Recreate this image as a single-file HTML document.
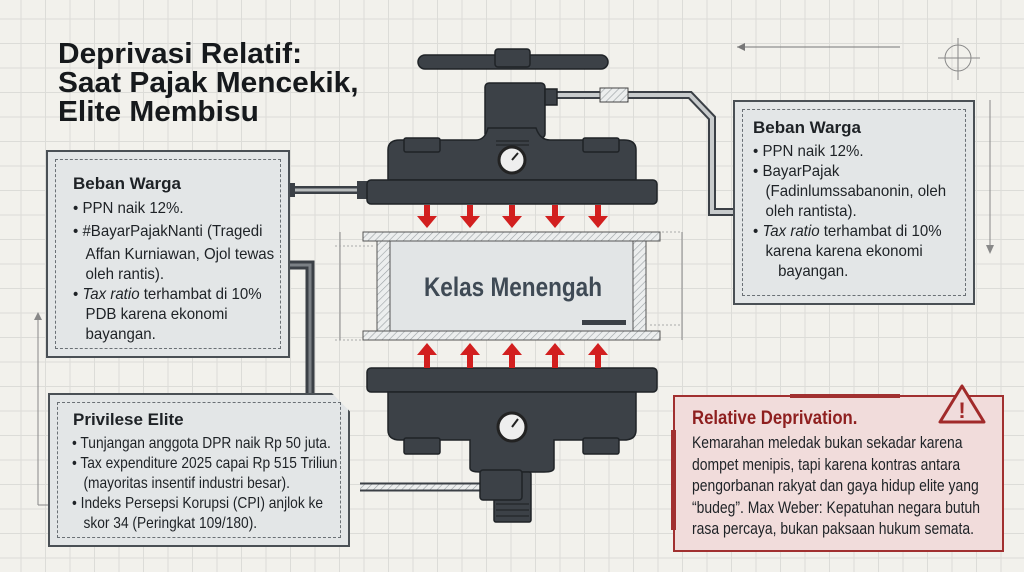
<!DOCTYPE html>
<html><head><meta charset="utf-8"><style>
*{margin:0;padding:0;box-sizing:border-box}
body{width:1024px;height:572px;overflow:hidden;position:relative;background-color:#f2f1ec;
background-image:linear-gradient(#dcdcd8 1px,transparent 1px),linear-gradient(90deg,#dcdcd8 1px,transparent 1px);background-size:24.5px 24.5px;background-position:-4px -6px;
font-family:"Liberation Sans",sans-serif;color:#1e2226}
.t{position:absolute;white-space:nowrap;transform-origin:0 0}
.title{left:58px;top:40px;font-weight:bold;font-size:29px;line-height:29px;color:#16191c;transform:scaleX(1.03)}
.box{position:absolute;background:#e3e6e7;border:2px solid #4a5055}
.in{position:absolute;border:1.5px dashed #6a7075}
.h{font-weight:bold;font-size:17px}
.l{font-size:16px;line-height:20px}
</style></head><body>
<div class="t title">Deprivasi Relatif:<br>Saat Pajak Mencekik,<br>Elite Membisu</div>

<svg width="1024" height="572" style="position:absolute;left:0;top:0">
<defs>
<pattern id="hat" width="5" height="5" patternUnits="userSpaceOnUse" patternTransform="rotate(45)"><rect width="5" height="5" fill="#eceeee"/><line x1="0" y1="0" x2="0" y2="5" stroke="#9aa0a3" stroke-width="1.2"/></pattern>
</defs>
<line x1="737" y1="47" x2="900" y2="47" stroke="#777" stroke-width="1"/><polygon points="737,47 745,43 745,51" fill="#777"/>
<circle cx="958" cy="58" r="13" fill="none" stroke="#888"/><line x1="938" y1="58" x2="980" y2="58" stroke="#888"/><line x1="958" y1="38" x2="958" y2="80" stroke="#888"/>
<line x1="990" y1="100" x2="990" y2="250" stroke="#888"/><polygon points="986,245 994,245 990,254" fill="#888"/>
<line x1="38" y1="315" x2="38" y2="505" stroke="#888"/><polygon points="34,320 42,320 38,312" fill="#888"/>
<line x1="38" y1="505" x2="48" y2="505" stroke="#888"/>
<line x1="340" y1="232" x2="340" y2="340" stroke="#888"/><line x1="335" y1="246" x2="375" y2="246" stroke="#aaa" stroke-dasharray="2 2"/><line x1="335" y1="340" x2="375" y2="340" stroke="#aaa" stroke-dasharray="2 2"/>
<line x1="682" y1="232" x2="682" y2="340" stroke="#888"/><line x1="650" y1="232" x2="682" y2="232" stroke="#aaa" stroke-dasharray="2 2"/><line x1="650" y1="325" x2="682" y2="325" stroke="#aaa" stroke-dasharray="2 2"/>
<g stroke-linecap="butt" fill="none">
<path d="M545 95 H690 L712 118 V212 H735" stroke="#3b4046" stroke-width="8"/>
<path d="M545 95 H690 L712 118 V212 H735" stroke="#c8cbcc" stroke-width="4"/>
<path d="M290 190 H367" stroke="#3b4046" stroke-width="8"/><path d="M290 190 H367" stroke="#b8bcbd" stroke-width="3"/>
<path d="M290 265 H310 V393" stroke="#3b4046" stroke-width="9"/><path d="M290 265 H310 V393" stroke="#7b8085" stroke-width="3"/>
<path d="M360 487 H480" stroke="#3b4046" stroke-width="9"/><path d="M360 487 H480" stroke="url(#hat)" stroke-width="5"/>
</g>
<rect x="600" y="88" width="28" height="14" fill="url(#hat)" stroke="#444"/>
<rect x="287" y="183" width="8" height="14" fill="#3b4046"/><rect x="357" y="181" width="12" height="18" fill="#3b4046"/>
<g fill="#3c4147" stroke="#1f2327" stroke-width="1.5">
<rect x="418" y="55" width="190" height="14" rx="7"/>
<rect x="495" y="49" width="35" height="18" rx="3"/>
<rect x="485" y="83" width="60" height="55" rx="4"/>
<rect x="545" y="89" width="12" height="16"/>
<rect x="494" y="138" width="37" height="10"/>
<path d="M388 180 V150 Q388 140 400 140 H476 Q485 140 488 128 H536 Q540 140 550 140 H624 Q636 140 636 150 V180 Z"/>
<rect x="404" y="138" width="36" height="14" rx="2"/><rect x="583" y="138" width="36" height="14" rx="2"/>
<rect x="367" y="180" width="290" height="24" rx="4"/>
<rect x="367" y="368" width="290" height="24" rx="4"/>
<path d="M388 392 V430 Q388 440 400 440 H470 V468 Q470 472 480 472 H544 Q554 472 554 468 V440 H624 Q636 440 636 430 V392 Z"/>
<rect x="404" y="438" width="36" height="16" rx="2"/><rect x="583" y="438" width="36" height="16" rx="2"/>
<rect x="494" y="472" width="37" height="50" rx="2"/>
<rect x="480" y="470" width="42" height="30" rx="3"/>
</g>
<g stroke="#22262a" stroke-width="1.2">
<line x1="496" y1="504" x2="529" y2="504"/><line x1="496" y1="510" x2="529" y2="510"/><line x1="496" y1="516" x2="529" y2="516"/>
<line x1="496" y1="141" x2="529" y2="141"/><line x1="496" y1="145" x2="529" y2="145"/></g>
<circle cx="512" cy="160" r="13" fill="#eee" stroke="#222" stroke-width="3"/><line x1="512" y1="160" x2="518" y2="153" stroke="#222" stroke-width="2"/>
<circle cx="512" cy="427" r="14" fill="#eee" stroke="#222" stroke-width="3"/><line x1="512" y1="427" x2="518" y2="419" stroke="#222" stroke-width="2"/>
<g fill="#d21f1f">
<path d="M424 205h6v11h7l-10 12-10-12h7z"/><path d="M467 205h6v11h7l-10 12-10-12h7z"/><path d="M509 205h6v11h7l-10 12-10-12h7z"/><path d="M552 205h6v11h7l-10 12-10-12h7z"/><path d="M595 205h6v11h7l-10 12-10-12h7z"/>
<path d="M424 368h6v-13h7l-10-12-10 12h7z"/><path d="M467 368h6v-13h7l-10-12-10 12h7z"/><path d="M509 368h6v-13h7l-10-12-10 12h7z"/><path d="M552 368h6v-13h7l-10-12-10 12h7z"/><path d="M595 368h6v-13h7l-10-12-10 12h7z"/>
</g>
<rect x="363" y="232" width="297" height="9" fill="url(#hat)" stroke="#555"/>
<rect x="363" y="331" width="297" height="9" fill="url(#hat)" stroke="#555"/>
<rect x="377" y="241" width="13" height="90" fill="url(#hat)" stroke="#555"/>
<rect x="633" y="241" width="13" height="90" fill="url(#hat)" stroke="#555"/>
<rect x="390" y="241" width="243" height="90" fill="#e2e5e6" stroke="#555"/>
<rect x="582" y="320" width="44" height="5" fill="#3b4046"/>
<text x="424" y="296" textLength="178" lengthAdjust="spacingAndGlyphs" font-family="Liberation Sans,sans-serif" font-weight="bold" font-size="27" fill="#3f4a55">Kelas Menengah</text>
</svg>

<div class="box" style="left:46px;top:150px;width:244px;height:208px"><div class="in" style="left:7px;top:7px;right:7px;bottom:7px"></div></div>
<div class="t h" style="left:73px;top:174px">Beban Warga</div>
<div class="t l" style="left:73px;top:199px;transform:scaleX(0.94)">• PPN naik 12%.<br><span style="line-height:26px">• #BayarPajakNanti (Tragedi</span><br>&nbsp;&nbsp;&nbsp;Affan Kurniawan, Ojol tewas<br>&nbsp;&nbsp;&nbsp;oleh rantis).<br>• <i>Tax ratio</i> terhambat di 10%<br>&nbsp;&nbsp;&nbsp;PDB karena ekonomi<br>&nbsp;&nbsp;&nbsp;bayangan.</div>

<div class="box" style="left:48px;top:393px;width:302px;height:154px;clip-path:polygon(0 0,94% 0,100% 12%,100% 100%,0 100%)"><div class="in" style="left:7px;top:7px;right:7px;bottom:7px"></div></div>
<div class="t h" style="left:73px;top:410px">Privilese Elite</div>
<div class="t l" style="left:72px;top:434px;font-size:16px;transform:scaleX(0.86)">• Tunjangan anggota DPR naik Rp 50 juta.<br>• Tax expenditure 2025 capai Rp 515 Triliun<br>&nbsp;&nbsp;&nbsp;(mayoritas insentif industri besar).<br>• Indeks Persepsi Korupsi (CPI) anjlok ke<br>&nbsp;&nbsp;&nbsp;skor 34 (Peringkat 109/180).</div>

<div class="box" style="left:733px;top:100px;width:242px;height:205px"><div class="in" style="left:7px;top:7px;right:7px;bottom:7px"></div></div>
<div class="t h" style="left:753px;top:118px">Beban Warga</div>
<div class="t l" style="left:753px;top:142px;transform:scaleX(0.94)">• PPN naik 12%.<br>• BayarPajak<br>&nbsp;&nbsp;&nbsp;(Fadinlumssabanonin, oleh<br>&nbsp;&nbsp;&nbsp;oleh rantista).<br>• <i>Tax ratio</i> terhambat di 10%<br>&nbsp;&nbsp;&nbsp;karena karena ekonomi<br>&nbsp;&nbsp;&nbsp;&nbsp;&nbsp;&nbsp;bayangan.</div>

<div class="box" style="left:673px;top:395px;width:331px;height:157px;background:#f1dcdb;border-color:#a13030"></div>
<div style="position:absolute;left:671px;top:430px;width:5px;height:100px;background:#a13030"></div>
<div style="position:absolute;left:790px;top:394px;width:110px;height:4px;background:#a13030"></div>
<div class="t h" style="left:692px;top:408px;color:#8e1f1f;font-size:19px;transform:scaleX(0.88)">Relative Deprivation.</div>
<div class="t l" style="left:692px;top:432px;font-size:17px;line-height:21.5px;transform:scaleX(0.82)">Kemarahan meledak bukan sekadar karena<br>dompet menipis, tapi karena kontras antara<br>pengorbanan rakyat dan gaya hidup elite yang<br>“budeg”. Max Weber: Kepatuhan negara butuh<br>rasa percaya, bukan paksaan hukum semata.</div>
<svg width="60" height="50" style="position:absolute;left:932px;top:380px">
<polygon points="30,6 8,42 52,42" fill="#f0dcdc" stroke="#a12a2a" stroke-width="3" stroke-linejoin="round"/>
<text x="30" y="38" text-anchor="middle" font-family="Liberation Sans" font-weight="bold" font-size="22" fill="#a12a2a">!</text>
</svg>
</body></html>
